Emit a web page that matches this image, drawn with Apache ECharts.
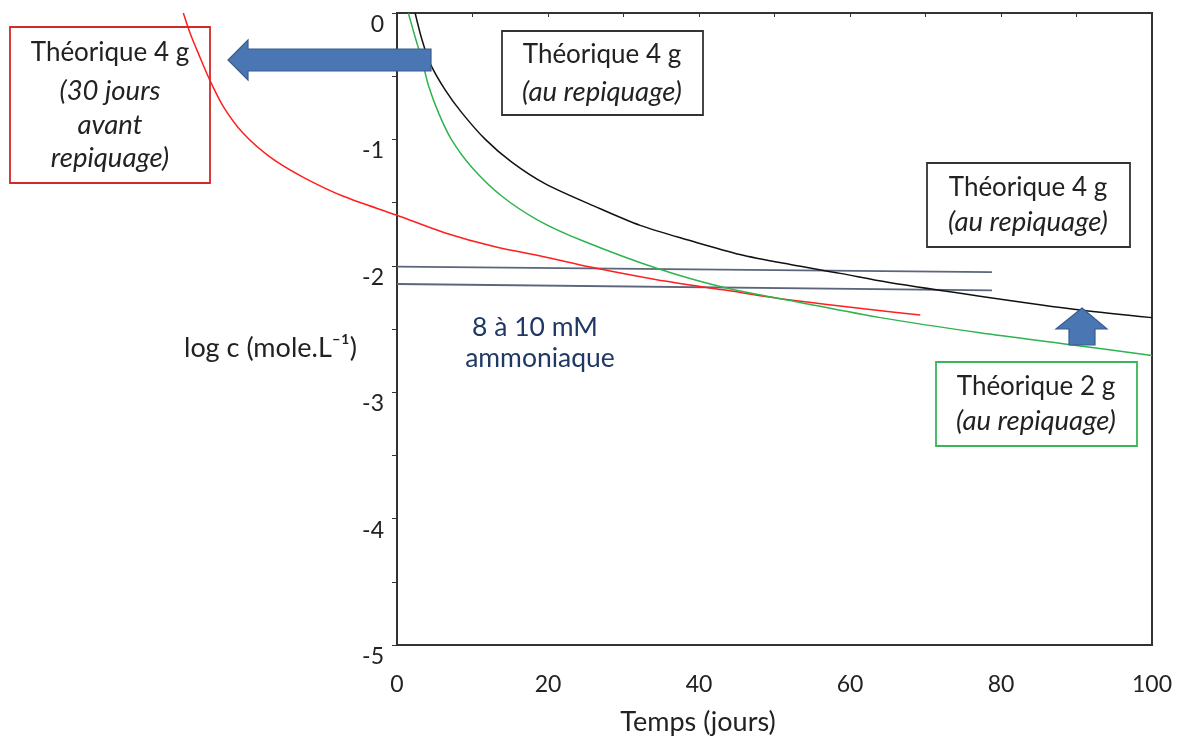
<!DOCTYPE html>
<html>
<head>
<meta charset="utf-8">
<script src="https://cdn.jsdelivr.net/npm/echarts@6/dist/echarts.min.js"></script>
<style>
html,body{margin:0;padding:0;background:#fff;}
#chart{width:1194px;height:743px;}
</style>
</head>
<body>
<div id="chart"></div>
<script>
// ---- Data (time in days, log c) ----
const tBlack = [2.4, 3.3, 4.4, 6.4, 8.6, 11.7, 15.2, 19.6, 26.2, 32.2, 38.8, 45.4, 52.1, 58.7, 65.0, 77.2, 90.5, 100];
const logBlack = [0, -0.21, -0.40, -0.61, -0.79, -1.00, -1.18, -1.35, -1.53, -1.68, -1.80, -1.91, -1.99, -2.06, -2.13, -2.24, -2.35, -2.41];

const tGreen = [1.5, 2.4, 3.3, 4.2, 5.5, 7.2, 9.9, 13.9, 18.7, 24.5, 34.4, 43.2, 53.4, 64.0, 77.2, 88.7, 100];
const logGreen = [0, -0.19, -0.37, -0.58, -0.79, -1.00, -1.22, -1.45, -1.64, -1.80, -2.02, -2.17, -2.29, -2.41, -2.53, -2.62, -2.71];

const tRed = [-28.3, -27.4, -26.1, -24.8, -23.0, -20.4, -16.8, -12.4, -7.1, 0, 6.4, 13.0, 19.6, 25.6, 34.4, 43.2, 52.1, 69.3];
const logRed = [0, -0.16, -0.35, -0.53, -0.74, -0.95, -1.14, -1.30, -1.45, -1.60, -1.74, -1.85, -1.93, -2.01, -2.11, -2.19, -2.27, -2.39];

const tRef = [0, 78.8];
const logRef10 = [-2.006, -2.05];
const logRef8 = [-2.144, -2.194];

const xTickLabels = [0, 20, 40, 60, 80, 100];
const yTickLabels = [0, -1, -2, -3, -4, -5];

const zip = (a, b) => a.map((v, i) => [v, b[i]]);

const FONT = 'Lato';
const TXT = '#222';

const chart = echarts.init(document.getElementById('chart'));

function boxText(x, y, text, italic) {
  return {
    type: 'text', z: 50,
    style: {
      x: x, y: y, text: text, fill: TXT,
      fontFamily: FONT, fontSize: italic ? 27.5 : 26, fontStyle: italic ? 'italic' : 'normal',
      textAlign: 'center', textVerticalAlign: 'middle'
    }
  };
}
function rect(x, y, w, h, color) {
  return {
    type: 'rect', z: 40,
    shape: { x: x, y: y, width: w, height: h },
    style: { fill: 'rgba(0,0,0,0)', stroke: color, lineWidth: 1.8 }
  };
}

const option = {
  animation: false,
  backgroundColor: '#fff',
  grid: [
    { left: 397, right: 42, top: 13, bottom: 98, show: true, borderColor: '#333', borderWidth: 2 },
    { left: 170.5, right: 42, top: 13, bottom: 98, show: false }
  ],
  xAxis: [
    {
      gridIndex: 0, type: 'value', min: 0, max: 100, interval: 10,
      axisLine: { show: true, lineStyle: { color: '#333', width: 1.8 } },
      axisTick: { show: true, length: 4, lineStyle: { color: '#333' } },
      splitLine: { show: false },
      axisLabel: {
        margin: 28, color: TXT, fontFamily: FONT, fontSize: 23,
        formatter: v => (xTickLabels.indexOf(v) >= 0 ? String(v) : '')
      }
    },
    { gridIndex: 1, type: 'value', min: -30, max: 100, show: false }
  ],
  yAxis: [
    {
      gridIndex: 0, type: 'value', min: -5, max: 0, interval: 0.5,
      axisLine: { show: true, onZero: false, lineStyle: { color: '#333', width: 1.8 } },
      axisTick: { show: true, length: 5, lineStyle: { color: '#333' } },
      splitLine: { show: false },
      axisLabel: {
        margin: 13, color: TXT, fontFamily: FONT, fontSize: 23, verticalAlign: 'top',
        formatter: v => (yTickLabels.indexOf(v) >= 0 ? String(v) : '')
      }
    },
    { gridIndex: 1, type: 'value', min: -5, max: 0, show: false }
  ],
  series: [
    { type: 'line', xAxisIndex: 0, yAxisIndex: 0, data: zip(tRef, logRef10), showSymbol: false,
      lineStyle: { color: '#5c6579', width: 1.8 }, z: 2 },
    { type: 'line', xAxisIndex: 0, yAxisIndex: 0, data: zip(tRef, logRef8), showSymbol: false,
      lineStyle: { color: '#5c6579', width: 1.8 }, z: 2 },
    { type: 'line', xAxisIndex: 1, yAxisIndex: 1, data: zip(tRed, logRed), showSymbol: false,
      smooth: 0.3,
      lineStyle: { color: '#ff1f1f', width: 1.5 }, z: 3 },
    { type: 'line', xAxisIndex: 0, yAxisIndex: 0, data: zip(tGreen, logGreen), showSymbol: false,
      smooth: 0.3,
      lineStyle: { color: '#2eb34f', width: 1.5 }, z: 3 },
    { type: 'line', xAxisIndex: 0, yAxisIndex: 0, data: zip(tBlack, logBlack), showSymbol: false,
      smooth: 0.3,
      lineStyle: { color: '#111', width: 1.5 }, z: 3 }
  ],
  graphic: [
    // axis names
    { type: 'text', z: 50, style: { x: 357, y: 348, text: 'log c (mole.L⁻¹)', fill: TXT, fontFamily: FONT, fontSize: 27,
      textAlign: 'right', textVerticalAlign: 'middle' } },
    { type: 'text', z: 50, style: { x: 698, y: 722, text: 'Temps (jours)', fill: TXT, fontFamily: FONT, fontSize: 27,
      textAlign: 'center', textVerticalAlign: 'middle' } },
    // red box
    rect(10, 27, 200, 156, '#d22a2a'),
    boxText(110, 53, 'Théorique 4 g', false),
    boxText(110, 91, '(30 jours', true),
    boxText(110, 125, 'avant', true),
    boxText(110, 158, 'repiquage)', true),
    // black box 1
    rect(502, 31, 201, 84, '#333'),
    boxText(602, 55, 'Théorique 4 g', false),
    boxText(602, 92, '(au repiquage)', true),
    // black box 2
    rect(927, 163, 203, 84, '#333'),
    boxText(1028, 188, 'Théorique 4 g', false),
    boxText(1028, 222, '(au repiquage)', true),
    // green box
    rect(936, 362, 201, 84, '#3bb55a'),
    boxText(1036, 387, 'Théorique 2 g', false),
    boxText(1036, 421, '(au repiquage)', true),
    // ammonia label
    { type: 'text', z: 50, style: { x: 535, y: 327, text: '8 à 10 mM', fill: '#203864', fontFamily: FONT, fontSize: 26.5,
      textAlign: 'center', textVerticalAlign: 'middle' } },
    { type: 'text', z: 50, style: { x: 540, y: 358, text: 'ammoniaque', fill: '#203864', fontFamily: FONT, fontSize: 26.5,
      textAlign: 'center', textVerticalAlign: 'middle' } },
    // arrows
    { type: 'polygon', z: 60,
      shape: { points: [[431, 49], [248, 49], [248, 40], [228, 60], [248, 80], [248, 71], [431, 71]] },
      style: { fill: '#4a76b4', stroke: '#385d8c', lineWidth: 1.2 } },
    { type: 'polygon', z: 60,
      shape: { points: [[1082, 308], [1107, 329], [1095, 329], [1095, 345], [1069, 345], [1069, 329], [1056, 329]] },
      style: { fill: '#4a76b4', stroke: '#385d8c', lineWidth: 1.2 } }
  ]
};
chart.setOption(option);
</script>
</body>
</html>
